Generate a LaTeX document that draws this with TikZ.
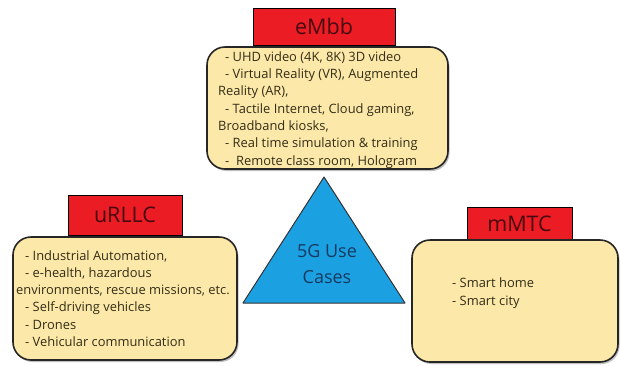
\documentclass[tikz,border=0pt]{standalone}
\usepackage{fontspec}
\setmainfont{Open Sans}
\definecolor{hdrred}{RGB}{236,28,36}
\definecolor{boxyel}{RGB}{252,232,168}
\definecolor{triblue}{RGB}{27,161,226}
\definecolor{tritext}{RGB}{22,58,95}
\definecolor{bodytxt}{RGB}{52,46,24}
\definecolor{hdrtxt}{RGB}{70,10,16}
\tikzset{
  hdr/.style={draw=black, line width=0.8pt, fill=hdrred, inner sep=0pt, text=hdrtxt, font=\fontsize{21.5}{26}\selectfont},
  ybox/.style={draw=black!85, line width=1.6pt, fill=boxyel, rounded corners=18pt, inner sep=0pt},
  shadowbox/.style={fill=black!25, rounded corners=18pt, inner sep=0pt, draw=none},
  txt/.style={inner sep=0pt, anchor=west, text=bodytxt, font=\fontsize{12.9}{15}\selectfont, text height=9pt, text depth=3pt},
}
\begin{document}
\begin{tikzpicture}[x=1pt, y=-1pt]
\useasboundingbox (0,0) rectangle (620,365);
\fill[white] (0,0) rectangle (620,365);

% eMbb
\node[hdr, minimum width=142pt, minimum height=37pt] (eh) at (324,26.5) {eMbb};
\node[shadowbox, minimum width=241pt, minimum height=122pt] (es) at (329,110) {};
\node[ybox, minimum width=241pt, minimum height=122pt] (eb) at (327.5,108) {};
\node[txt] (e1) at (225,58) {- UHD video (4K, 8K) 3D video};
\node[txt] (e2) at (225,75) {- Virtual Reality (VR), Augmented};
\node[txt] (e3) at (218,92) {Reality (AR),};
\node[txt] (e4) at (225,110) {- Tactile Internet, Cloud gaming,};
\node[txt] (e5) at (218,127) {Broadband kiosks,};
\node[txt] (e6) at (225,144) {- Real time simulation \& training};
\node[txt] (e7) at (225,162) {-\ \ Remote class room, Hologram};

% uRLLC
\node[hdr, minimum width=114pt, minimum height=40pt] (uh) at (125,215) {uRLLC};
\node[shadowbox, minimum width=224pt, minimum height=123pt] (us) at (126.5,300.5) {};
\node[ybox, minimum width=224pt, minimum height=123pt] (ub) at (125,298.5) {};
\node[txt] (u1) at (25,257) {- Industrial Automation,};
\node[txt] (u2) at (25,274) {- e-health, hazardous};
\node[txt] (u3) at (16,291) {environments, rescue missions, etc.};
\node[txt] (u4) at (25,308) {- Self-driving vehicles};
\node[txt] (u5) at (25,326) {- Drones};
\node[txt] (u6) at (25,343) {- Vehicular communication};

% mMTC
\node[hdr, minimum width=105pt, minimum height=33pt] (mh) at (519.5,223.5) {mMTC};
\node[shadowbox, minimum width=206pt, minimum height=122pt] (ms) at (516.5,303) {};
\node[ybox, minimum width=206pt, minimum height=122pt] (mb) at (515,301) {};
\node[txt] (m1) at (452,284) {- Smart home};
\node[txt] (m2) at (452,302) {- Smart city};

% triangle
\draw[fill=triblue, draw=black!80, line width=1pt, line join=round] (324,177) -- (405,303) -- (243,303) -- cycle;
\node[text=tritext, align=center, font=\fontsize{18}{26}\selectfont, inner sep=0pt] (tri) at (327,264) {5G Use\\Cases};
\end{tikzpicture}
\end{document}
